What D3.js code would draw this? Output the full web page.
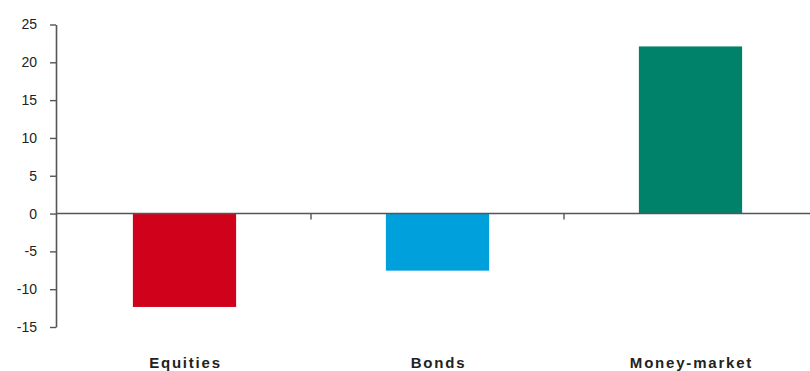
<!DOCTYPE html>
<html><head><meta charset="utf-8">
<script src="https://cdn.jsdelivr.net/npm/d3@7"></script>
<style>
html,body{margin:0;padding:0;background:#fff;}
svg{display:block;font-family:"Liberation Sans",Arial,sans-serif;}
</style></head>
<body><svg id="c" width="810" height="371"></svg>
<script>
const categories = ["Equities", "Bonds", "Money-market"];
const values = [-12.35, -7.55, 22.1];
const colors = ["#d0021b", "#00a0dc", "#00826a"];
const yTicks = [25, 20, 15, 10, 5, 0, -5, -10, -15];

const svg = d3.select("#c");
const y = d3.scaleLinear().domain([-15, 25]).range([327, 24.5]);
const x = d3.scaleBand().domain(categories).range([58, 817]).padding(0);
const barFrac = 0.408;
const axisX = 56;

// bars
svg.selectAll("rect.bar").data(categories).join("rect")
  .attr("class", "bar")
  .attr("x", (d) => x(d) + x.bandwidth() * (1 - barFrac) / 2)
  .attr("width", x.bandwidth() * barFrac)
  .attr("y", (d, i) => y(Math.max(0, values[i])))
  .attr("height", (d, i) => Math.abs(y(values[i]) - y(0)))
  .attr("fill", (d, i) => colors[i]);

// y axis
const yAxis = d3.axisLeft(y).tickValues(yTicks).tickSize(6).tickPadding(13)
  .tickSizeOuter(0).tickFormat((d) => String(d));
const gy = svg.append("g").attr("transform", `translate(${axisX},0)`).call(yAxis);
gy.select(".domain").attr("stroke", "#555").attr("stroke-width", 1.6);
gy.selectAll(".tick line").attr("stroke", "#555").attr("stroke-width", 1.4);
gy.selectAll(".tick text").attr("font-size", 14).attr("fill", "#222")
  .attr("font-family", "'Liberation Sans',Arial,sans-serif");

// x axis at zero
const xAxis = d3.axisBottom(x).tickSize(0).tickFormat("");
const gx = svg.append("g").attr("transform", `translate(0,${y(0)})`).call(xAxis);
gx.select(".domain").remove();
gx.append("line").attr("x1", axisX).attr("x2", 810).attr("y1", 0).attr("y2", 0)
  .attr("stroke", "#555").attr("stroke-width", 1.6);
// tick marks between categories
gx.selectAll("line.sep").data(categories.slice(1)).join("line")
  .attr("class", "sep")
  .attr("x1", (d) => x(d)).attr("x2", (d) => x(d))
  .attr("y1", 0).attr("y2", 6)
  .attr("stroke", "#555").attr("stroke-width", 1.4);

// category labels
svg.selectAll("text.cat").data(categories).join("text")
  .attr("class", "cat")
  .attr("x", (d) => x(d) + x.bandwidth() / 2 + 1)
  .attr("y", 368)
  .attr("text-anchor", "middle")
  .attr("font-size", 15)
  .attr("font-weight", "bold")
  .attr("letter-spacing", "1.8px")
  .attr("fill", "#222")
  .text((d) => d);
</script></body></html>
